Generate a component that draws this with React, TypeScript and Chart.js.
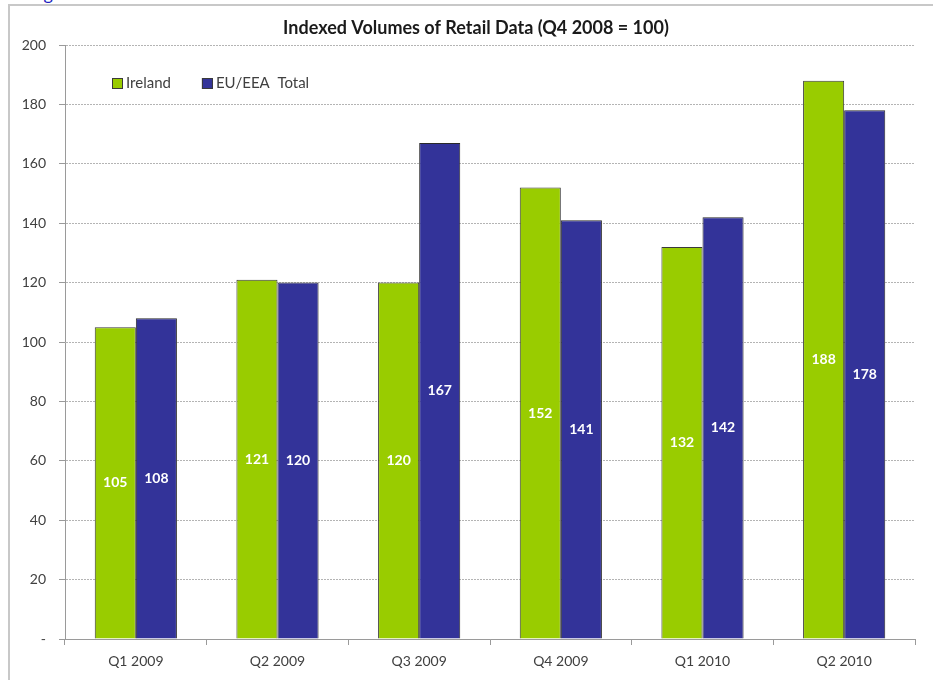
import { useEffect, useRef } from "react";
import { Chart, registerables } from "chart.js";

Chart.register(...registerables);

const categories = ["Q1 2009", "Q2 2009", "Q3 2009", "Q4 2009", "Q1 2010", "Q2 2010"];
const irelandValues = [105, 121, 120, 152, 132, 188];
const euValues = [108, 120, 167, 141, 142, 178];
const seriesNames = ["Ireland", "EU/EEA  Total"];
const seriesColors = ["#99CC00", "#333399"];
const chartTitle = "Indexed Volumes of Retail Data (Q4 2008 = 100)";

const FONT = "Lato, 'Open Sans', sans-serif";

// Heading drawn above the plot area
const titlePlugin = {
  id: "retailTitle",
  afterDraw(chart: any) {
    const ctx = chart.ctx;
    ctx.save();
    ctx.font = `bold 18px ${FONT}`;
    ctx.fillStyle = "#1a1a1a";
    ctx.textAlign = "center";
    ctx.textBaseline = "middle";
    ctx.fillText(chartTitle, 476, 28);
    ctx.restore();
  },
};

// Legend placed inside the top-left corner of the plot
const insideLegend = {
  id: "insideLegend",
  afterDraw(chart: any) {
    const ctx = chart.ctx;
    const area = chart.chartArea;
    const y = area.top + 38;
    let x = area.left + 47;
    ctx.save();
    ctx.font = `15px ${FONT}`;
    ctx.textBaseline = "middle";
    chart.data.datasets.forEach((ds: any) => {
      ctx.fillStyle = ds.backgroundColor;
      ctx.strokeStyle = "#3a3a3a";
      ctx.lineWidth = 1;
      ctx.fillRect(x, y - 5, 11, 11);
      ctx.strokeRect(x + 0.5, y - 4.5, 10, 10);
      ctx.fillStyle = "#404040";
      ctx.fillText(ds.label, x + 14, y);
      x += 14 + ctx.measureText(ds.label).width + 31;
    });
    ctx.restore();
  },
};

// White value labels in the middle of every bar
const barValues = {
  id: "barValues",
  afterDatasetsDraw(chart: any) {
    const ctx = chart.ctx;
    ctx.save();
    ctx.font = `bold 14px ${FONT}`;
    ctx.fillStyle = "#ffffff";
    ctx.textAlign = "center";
    ctx.textBaseline = "middle";
    chart.data.datasets.forEach((ds: any, i: number) => {
      chart.getDatasetMeta(i).data.forEach((bar: any, j: number) => {
        const p = bar.getCenterPoint();
        ctx.fillText(String(ds.data[j]), p.x, p.y);
      });
    });
    ctx.restore();
  },
};

export default function App() {
  const canvasRef = useRef<HTMLCanvasElement | null>(null);

  useEffect(() => {
    if (!canvasRef.current) return;
    const chart = new Chart(canvasRef.current, {
      type: "bar",
      data: {
        labels: categories,
        datasets: [
          {
            label: seriesNames[0],
            data: irelandValues,
            backgroundColor: seriesColors[0],
            borderColor: "#3a3a3a",
            borderWidth: 1,
          },
          {
            label: seriesNames[1],
            data: euValues,
            backgroundColor: seriesColors[1],
            borderColor: "#2a2a2a",
            borderWidth: 1,
          },
        ],
      },
      options: {
        animation: false,
        responsive: false,
        maintainAspectRatio: false,
        datasets: {
          bar: { categoryPercentage: 0.58, barPercentage: 1 },
        },
        layout: { padding: { top: 45, right: 18, bottom: 0, left: 0 } },
        plugins: {
          legend: { display: false },
          title: { display: false },
          tooltip: { enabled: false },
        },
        scales: {
          x: {
            afterFit(scale: any) {
              scale.height = 41;
            },
            grid: {
              offset: true,
              drawOnChartArea: false,
              drawTicks: true,
              tickLength: 6,
              tickColor: "#9a9a9a",
            },
            border: { display: true, color: "#9a9a9a", width: 1 },
            ticks: {
              color: "#404040",
              padding: 8,
              font: { family: FONT, size: 14 },
              maxRotation: 0,
            },
          },
          y: {
            min: 0,
            max: 200,
            afterFit(scale: any) {
              scale.width = 65;
            },
            grid: {
              color: "#b4b4b4",
              lineWidth: 1,
              tickLength: 6,
              tickColor: "#9a9a9a",
            },
            border: { display: true, color: "#9a9a9a", width: 1, dash: [2, 1] },
            ticks: {
              stepSize: 20,
              color: "#404040",
              padding: 13,
              font: { family: FONT, size: 14 },
              callback: (v: any) => (Number(v) === 0 ? "-" : String(v)),
            },
          },
        },
      },
      plugins: [titlePlugin, insideLegend, barValues],
    });
    return () => chart.destroy();
  }, []);

  return (
    <div
      style={{
        position: "fixed",
        left: 0,
        top: 0,
        width: 933,
        height: 680,
        overflow: "hidden",
        background: "#ffffff",
      }}
    >
      <span
        style={{
          position: "absolute",
          left: 29,
          top: -16,
          font: `18px ${FONT}`,
          lineHeight: "18px",
          color: "#2020c0",
          whiteSpace: "nowrap",
        }}
      >
        Figure
      </span>
      <canvas
        ref={canvasRef}
        width={933}
        height={680}
        style={{ position: "absolute", left: 0, top: 0, width: 933, height: 680 }}
      />
      <div
        style={{
          position: "absolute",
          left: 8,
          top: 4,
          width: 960,
          height: 720,
          border: "2px solid #c8c8c8",
          pointerEvents: "none",
        }}
      />
    </div>
  );
}
